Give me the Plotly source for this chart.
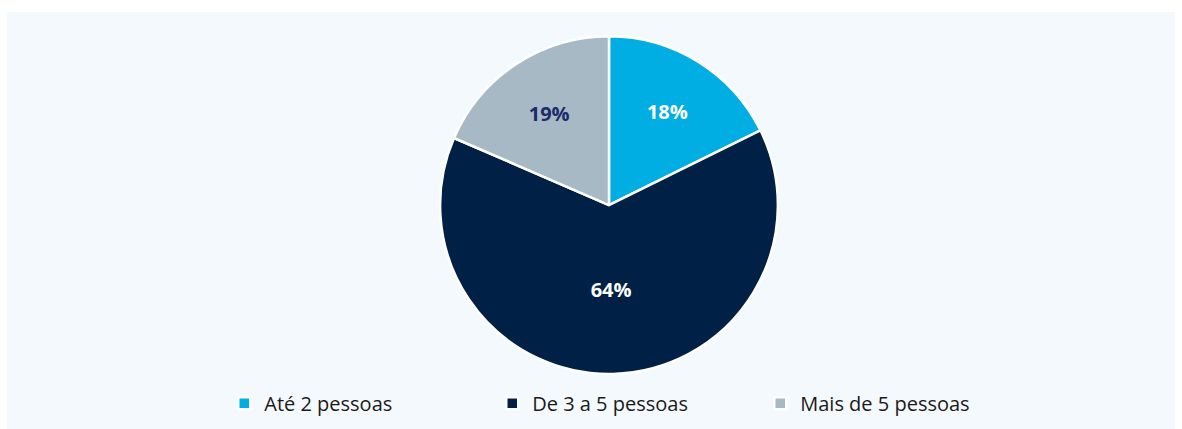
import plotly.graph_objects as go

labels = ["Até 2 pessoas", "De 3 a 5 pessoas", "Mais de 5 pessoas"]
values = [17.7, 63.8, 18.5]
text_labels = ["18%", "64%", "19%"]
colors = ["#00AEE3", "#002145", "#A7B9C5"]
text_colors = ["#FFFFFF", "#FFFFFF", "#1B2B6B"]

fig = go.Figure(go.Pie(
    labels=labels,
    values=values,
    text=text_labels,
    textinfo="text",
    textposition="inside",
    insidetextorientation="horizontal",
    sort=False,
    direction="clockwise",
    rotation=0,
    marker=dict(colors=colors, line=dict(color="#FFFFFF", width=2.5)),
    textfont=dict(family="Open Sans", size=20, color=text_colors, weight="bold"),
    domain=dict(x=[0.3654, 0.6654], y=[0.132, 0.942]),
    hoverinfo="label+percent",
))

fig.update_layout(
    width=1182, height=429,
    margin=dict(l=7, r=7, t=12, b=0),
    paper_bgcolor="#FFFFFF",
    plot_bgcolor="#F4F9FD",
    font=dict(family="Open Sans", size=20, color="#222222"),
    showlegend=True,
    legend=dict(
        orientation="h",
        x=0.186, xanchor="left",
        y=0.062, yanchor="middle",
        entrywidth=223, entrywidthmode="pixels",
        itemwidth=30,
        font=dict(family="Open Sans", size=20, color="#1A1A1A"),
        bgcolor="rgba(0,0,0,0)",
    ),
    shapes=[dict(type="rect", xref="paper", yref="paper", x0=0, x1=1, y0=0, y1=1,
                 fillcolor="#F4F9FD", line=dict(width=0), layer="below")],
)

fig.write_html("out.html", config={"displayModeBar": False},
               post_script="document.body.style.margin='0';")
